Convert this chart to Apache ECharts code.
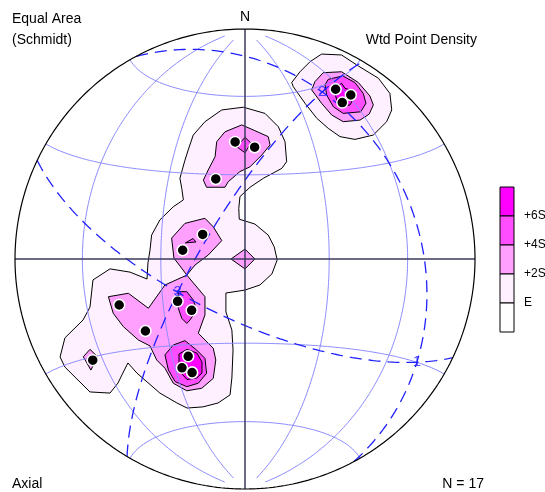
<!DOCTYPE html>
<html>
<head>
<meta charset="utf-8">
<script src="https://cdn.jsdelivr.net/npm/echarts@6/dist/echarts.min.js"></script>
<style>
  html, body { margin: 0; padding: 0; background: #ffffff; }
  #chart { width: 545px; height: 492px; }
</style>
</head>
<body>
<div id="chart"></div>
<script>
// Axial data plotted on a lower-hemisphere equal-area (Schmidt) net.
// Net coordinates: east / north, primitive circle radius = 1.
const pointEast  = [0.394, 0.460, 0.423, -0.043, 0.042, -0.127, -0.184, -0.271, -0.547, -0.293, -0.232, -0.433, -0.662, -0.247, -0.274, -0.230, -0.230];
const pointNorth = [0.738, 0.713, 0.680, 0.509, 0.486, 0.348, 0.107, 0.038, -0.200, -0.184, -0.223, -0.313, -0.440, -0.423, -0.473, -0.494, -0.494];

// Eigenvectors of the orientation tensor (trend, plunge in degrees)
const eigenTrend  = [121.0, 24.8, 243.7];
const eigenPlunge = [13.9, 21.1, 63.3];
const eigenLabels = ['1', '2', '3'];
// Cylindrical great circles drawn through pairs of eigenvectors
const eigenPairs = [[0, 1], [1, 2], [0, 2]];

// Reference net: meridian dips and small-circle cone angles (degrees)
const netDips  = [30, 60];
const netCones = [30, 60, 120, 150];

// Weighted point density contour levels
const levelLabels = ['E', '+2S', '+4S', '+6S'];

// Contour outlines per level, [east, north] vertices in net coordinates
const contourE = [
  [[0.333,0.891],[0.420,0.887],[0.493,0.839],[0.580,0.786],[0.630,0.720],[0.638,0.648],[0.616,0.597],[0.558,0.539],[0.478,0.520],[0.413,0.532],[0.362,0.568],[0.312,0.612],[0.261,0.677],[0.210,0.749],[0.203,0.767],[0.239,0.814],[0.283,0.858]],
  [[-0.101,0.648],[-0.007,0.660],[0.087,0.633],[0.145,0.575],[0.174,0.510],[0.181,0.423],[0.160,0.394],[0.080,0.351],[0.022,0.312],[-0.022,0.271],[-0.027,0.220],[-0.025,0.173],[0.043,0.152],[0.101,0.104],[0.127,0.053],[0.140,-0.004],[0.117,-0.065],[0.065,-0.113],[0.000,-0.135],[-0.083,-0.148],[-0.083,-0.230],[-0.057,-0.309],[-0.052,-0.396],[-0.057,-0.517],[-0.065,-0.591],[-0.117,-0.626],[-0.183,-0.643],[-0.252,-0.648],[-0.296,-0.626],[-0.370,-0.583],[-0.470,-0.496],[-0.509,-0.452],[-0.535,-0.504],[-0.552,-0.539],[-0.587,-0.583],[-0.674,-0.578],[-0.783,-0.470],[-0.804,-0.426],[-0.783,-0.343],[-0.704,-0.265],[-0.674,-0.209],[-0.661,-0.091],[-0.587,-0.043],[-0.500,-0.057],[-0.426,-0.087],[-0.422,-0.017],[-0.413,0.039],[-0.406,0.104],[-0.370,0.170],[-0.312,0.227],[-0.268,0.257],[-0.275,0.307],[-0.283,0.351],[-0.261,0.430],[-0.247,0.474],[-0.225,0.539],[-0.174,0.597]]
];
const contour2S = [
  [[0.340,0.810],[0.420,0.814],[0.493,0.767],[0.543,0.709],[0.558,0.670],[0.540,0.630],[0.500,0.604],[0.427,0.597],[0.377,0.626],[0.333,0.677],[0.290,0.735],[0.304,0.771]],
  [[-0.014,0.583],[0.043,0.558],[0.101,0.532],[0.109,0.496],[0.073,0.452],[0.022,0.401],[-0.022,0.380],[-0.073,0.336],[-0.087,0.312],[-0.167,0.312],[-0.181,0.343],[-0.160,0.387],[-0.130,0.445],[-0.123,0.510],[-0.087,0.553]],
  [[-0.319,0.091],[-0.261,0.155],[-0.174,0.177],[-0.138,0.140],[-0.101,0.080],[-0.160,0.017],[-0.217,-0.026],[-0.253,-0.070],[-0.283,-0.030],[-0.309,0.004]],
  [[-0.061,0.000],[0.000,0.043],[0.043,0.000],[0.000,-0.043]],
  [[-0.594,-0.164],[-0.507,-0.149],[-0.420,-0.214],[-0.348,-0.113],[-0.253,-0.070],[-0.174,-0.164],[-0.174,-0.243],[-0.203,-0.323],[-0.138,-0.388],[-0.127,-0.439],[-0.138,-0.519],[-0.188,-0.562],[-0.253,-0.573],[-0.312,-0.540],[-0.348,-0.475],[-0.384,-0.439],[-0.413,-0.378],[-0.464,-0.352],[-0.529,-0.294],[-0.573,-0.236]],
  [[-0.703,-0.425],[-0.674,-0.393],[-0.641,-0.425],[-0.670,-0.483]]
];
const contour4S = [
  [[0.362,0.781],[0.425,0.796],[0.478,0.767],[0.514,0.720],[0.526,0.677],[0.503,0.640],[0.427,0.633],[0.384,0.662],[0.355,0.713],[0.348,0.757]],
  [[-0.036,0.488],[0.000,0.529],[0.026,0.504],[0.000,0.462]],
  [[-0.259,0.070],[-0.226,0.089],[-0.213,0.074]],
  [[-0.290,-0.142],[-0.253,-0.142],[-0.225,-0.178],[-0.210,-0.222],[-0.239,-0.265],[-0.253,-0.280],[-0.275,-0.258],[-0.290,-0.214]],
  [[-0.348,-0.417],[-0.312,-0.374],[-0.261,-0.355],[-0.210,-0.396],[-0.174,-0.432],[-0.167,-0.497],[-0.203,-0.540],[-0.253,-0.555],[-0.304,-0.533],[-0.333,-0.483]]
];
const contour6S = [
  [[0.399,0.749],[0.420,0.764],[0.435,0.742],[0.457,0.735],[0.471,0.699],[0.457,0.670],[0.420,0.662],[0.399,0.691],[0.391,0.720]],
  [[-0.287,-0.413],[-0.252,-0.393],[-0.209,-0.409],[-0.187,-0.448],[-0.187,-0.496],[-0.209,-0.517],[-0.252,-0.524],[-0.278,-0.496],[-0.287,-0.448]]
];

// ---- styling ----
const levelFills = ['#fff0ff', '#ffa0ff', '#ff4dff', '#ff00ff'];
const netColor = '#8c8cff';
const circleColor = '#2020ff';
const axisColor = '#3a3a5c';

// ---- spherical helpers ----
const D2R = Math.PI / 180;
function toVec(trend, plunge) {
  const t = trend * D2R, p = plunge * D2R;
  return [Math.cos(p) * Math.cos(t), Math.cos(p) * Math.sin(t), Math.sin(p)]; // north, east, down
}
function cross(a, b) {
  return [a[1] * b[2] - a[2] * b[1], a[2] * b[0] - a[0] * b[2], a[0] * b[1] - a[1] * b[0]];
}
function unit(a) { const l = Math.hypot(a[0], a[1], a[2]); return a.map(v => v / l); }
// Lambert equal-area projection of a lower-hemisphere direction
function project(v) {
  let [n, e, d] = v;
  if (d < 0) { n = -n; e = -e; d = -d; }
  const k = 1 / Math.sqrt(1 + d);
  return [e * k, n * k];
}
// Great circle with the given normal, traced from strike (t=0) through dip to strike (t=180)
function greatCircle(normal, t0, t1) {
  const n = unit(normal);
  const s = unit([n[1], -n[0], 0]);
  let d = cross(n, s);
  if (d[2] < 0) d = d.map(v => -v);
  const pts = [];
  for (let t = t0; t <= t1 + 1e-9; t += 1) {
    const c = Math.cos(t * D2R), si = Math.sin(t * D2R);
    pts.push(project([c * s[0] + si * d[0], c * s[1] + si * d[1], c * s[2] + si * d[2]]));
  }
  return pts;
}
// Small circle about the north-south horizontal axis
function smallCircle(cone) {
  const a = cone * D2R, pts = [];
  for (let f = 0; f <= 180; f += 1) {
    const ph = f * D2R;
    pts.push(project([Math.cos(a), Math.sin(a) * Math.cos(ph), Math.sin(a) * Math.sin(ph)]));
  }
  return pts;
}

function lineSeries(data, style, z) {
  return {
    type: 'line', data, symbol: 'none', silent: true, clip: false, z: z || 3,
    lineStyle: style, animation: false
  };
}
function polygonSeries(polys, fill, z) {
  return {
    type: 'custom', coordinateSystem: 'cartesian2d', silent: true, clip: false, z,
    data: polys.map(p => p[0]),
    renderItem: (params, api) => ({
      type: 'polygon',
      shape: { points: polys[params.dataIndex].map(p => api.coord(p)) },
      style: { fill, stroke: '#000000', lineWidth: 1 }
    }),
    animation: false
  };
}

const series = [];
[contourE, contour2S, contour4S, contour6S].forEach((polys, i) => series.push(polygonSeries(polys, levelFills[i], 1)));

// reference net
netDips.forEach(dip => {
  const s = Math.sin(dip * D2R), c = Math.cos(dip * D2R);
  series.push(lineSeries(greatCircle([0, -s, c], 6, 174), { color: netColor, width: 1 }, 3));
  series.push(lineSeries(greatCircle([0, s, c], 6, 174), { color: netColor, width: 1 }, 3));
});
netCones.forEach(cone => series.push(lineSeries(smallCircle(cone), { color: netColor, width: 1 }, 3)));

// eigenvector great circles
const eigenVecs = eigenTrend.map((t, i) => toVec(t, eigenPlunge[i]));
eigenPairs.forEach(([a, b]) => {
  series.push(lineSeries(greatCircle(cross(eigenVecs[a], eigenVecs[b]), 0, 180),
    { color: circleColor, width: 1.3, type: [12, 7] }, 4));
});

// N-S and E-W diameters
series.push(lineSeries([[-1, 0], [1, 0]], { color: axisColor, width: 1.5 }, 5));
series.push(lineSeries([[0, -1], [0, 1]], { color: axisColor, width: 1.5 }, 5));
// primitive circle
const prim = [];
for (let a = 0; a <= 360; a += 1) prim.push([Math.sin(a * D2R), Math.cos(a * D2R)]);
series.push(lineSeries(prim, { color: '#000000', width: 1.2 }, 5));

// data points
series.push({
  type: 'scatter', z: 6, silent: true, animation: false,
  data: pointEast.map((e, i) => [e, pointNorth[i]]),
  symbol: 'circle', symbolSize: 11,
  itemStyle: { color: '#000000', borderColor: '#ffffff', borderWidth: 1.5, opacity: 1 }
});
// eigenvector labels
series.push({
  type: 'scatter', z: 7, silent: true, animation: false,
  data: eigenVecs.map((v, i) => ({ value: project(v), name: eigenLabels[i] })),
  symbolSize: 0,
  label: { show: true, position: 'inside', formatter: p => p.name, color: circleColor, fontSize: 15, fontFamily: 'Liberation Sans, Arial, sans-serif' }
});

// legend boxes for contour levels
const legendFills = levelFills.slice().reverse().concat(['#ffffff']);
const legendLabels = levelLabels.slice().reverse();
const graphics = [];
const boxX = 500, boxTop = 187, boxW = 14, boxH = 29;
legendFills.forEach((f, i) => {
  graphics.push({ type: 'rect', shape: { x: boxX, y: boxTop + i * boxH, width: boxW, height: boxH },
    style: { fill: f, stroke: '#000000', lineWidth: 1 }, z: 10 });
});
legendLabels.forEach((t, i) => {
  graphics.push({ type: 'text', x: 524, y: boxTop + (i + 1) * boxH,
    style: { text: t, fill: '#000000', font: '12px "Liberation Sans", Arial, sans-serif', textVerticalAlign: 'middle' }, z: 10 });
});
const font = '14px "Liberation Sans", Arial, sans-serif';
[
  { text: 'Equal Area', x: 12, y: 19, align: 'left' },
  { text: '(Schmidt)', x: 12, y: 40, align: 'left' },
  { text: 'Wtd Point Density', x: 477, y: 40, align: 'right' },
  { text: 'N', x: 245, y: 17, align: 'center' },
  { text: 'Axial', x: 12, y: 484, align: 'left' },
  { text: 'N = 17', x: 484, y: 484, align: 'right' }
].forEach(t => graphics.push({ type: 'text', x: t.x, y: t.y, z: 10,
  style: { text: t.text, fill: '#000000', font, textAlign: t.align, textVerticalAlign: 'middle' } }));

const chart = echarts.init(document.getElementById('chart'), null, { renderer: 'canvas' });
chart.setOption({
  animation: false,
  backgroundColor: '#ffffff',
  grid: { left: 15, top: 29, width: 460, height: 460 },
  xAxis: { type: 'value', min: -1, max: 1, show: false },
  yAxis: { type: 'value', min: -1, max: 1, show: false },
  series,
  graphic: graphics
});
</script>
</body>
</html>
